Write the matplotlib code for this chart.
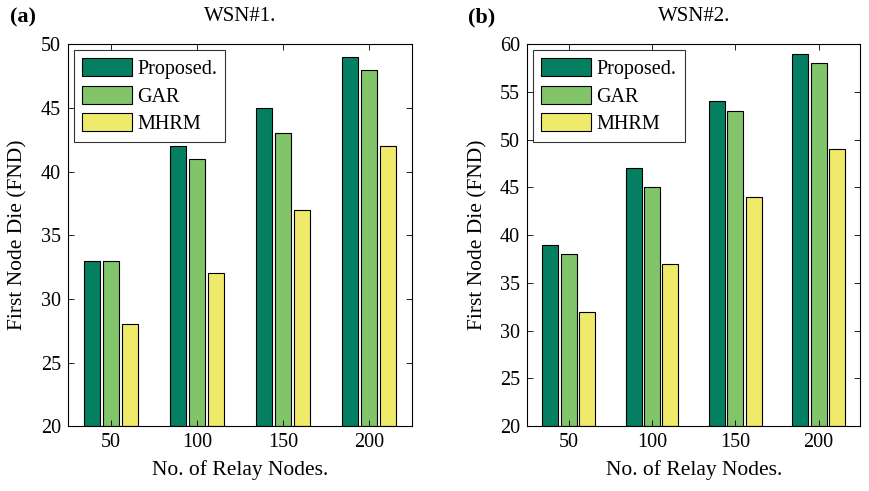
import matplotlib
matplotlib.use("Agg")
import matplotlib.pyplot as plt
import numpy as np

plt.rcParams['font.family'] = ['Liberation Serif', 'DejaVu Serif']

categories = ['50', '100', '150', '200']
series = ['Proposed.', 'GAR', 'MHRM']
wsn1_proposed = [33, 42, 45, 49]
wsn1_gar = [33, 41, 43, 48]
wsn1_mhrm = [28, 32, 37, 42]
wsn2_proposed = [39, 47, 54, 59]
wsn2_gar = [38, 45, 53, 58]
wsn2_mhrm = [32, 37, 44, 49]

colors = ['#057f62', '#82c46a', '#efea6a']

fig = plt.figure(figsize=(8.69, 4.91), dpi=100)
ax1 = fig.add_axes([0.078, 0.132, 0.396, 0.778])
ax2 = fig.add_axes([0.6065, 0.132, 0.3835, 0.778])

def draw(ax, data, ylim, title, letter, lx):
    x = np.arange(1, len(categories) + 1)
    w = 0.19
    off = 0.22
    for i, (vals, c, name) in enumerate(zip(data, colors, series)):
        ax.bar(x + (i - 1) * off, np.array(vals) - ylim[0], width=w, bottom=ylim[0],
               color=c, edgecolor='black', linewidth=0.8, label=name)
    ax.set_xlim(0.5, 4.5)
    ax.set_ylim(*ylim)
    ax.set_xticks(x)
    ax.set_xticklabels(categories)
    ax.set_yticks(np.arange(ylim[0], ylim[1] + 1, 5))
    ax.tick_params(direction='in', top=True, right=True, labelsize=14.5, length=4, width=0.6, pad=5)
    for s in ax.spines.values():
        s.set_linewidth(0.8)
    ax.set_xlabel('No. of Relay Nodes.', fontsize=15.5, labelpad=6)
    ax.set_ylabel('First Node Die (FND)', fontsize=15.5)
    ax.yaxis.set_label_coords(-0.118, 0.5)
    ax.set_title(title, fontsize=15, pad=17)
    leg = ax.legend(loc='upper left', fontsize=14.5, frameon=True, fancybox=False,
                    edgecolor='black', handlelength=2.5, handleheight=1.0,
                    borderaxespad=0.3, labelspacing=0.33, handletextpad=0.25,
                    borderpad=0.4)
    leg.get_frame().set_linewidth(0.8)
    fig.text(lx, 0.965, letter, fontsize=16, fontweight='bold', va='center', ha='left')

draw(ax1, [wsn1_proposed, wsn1_gar, wsn1_mhrm], (20, 50), 'WSN#1.', '(a)', 0.012)
draw(ax2, [wsn2_proposed, wsn2_gar, wsn2_mhrm], (20, 60), 'WSN#2.', '(b)', 0.538)

fig.savefig('out.png', dpi=100)
